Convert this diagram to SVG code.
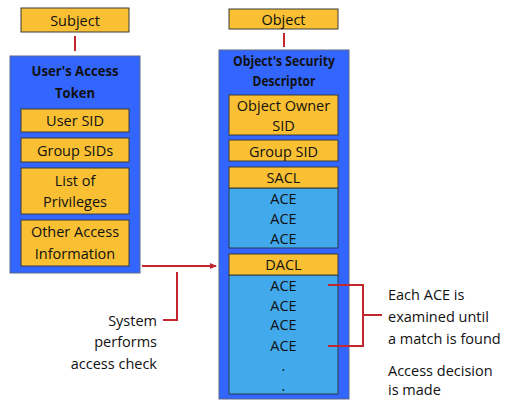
<svg xmlns="http://www.w3.org/2000/svg" width="508" height="406" viewBox="0 0 508 406">
<defs>
<style>
.y{fill:#F9C033;stroke:#3a3a3a;stroke-width:1}
.b{fill:#3366FF;stroke:#5a6a8a;stroke-width:1}
.lb{fill:#42A9EC;stroke:#2a3a4a;stroke-width:1}
text{font-family:"Open Sans","Noto Sans",sans-serif;font-size:14.5px;fill:#111;dominant-baseline:central}
.c{text-anchor:middle}
.t{font-weight:bold;font-size:14.5px}
.w{stroke:#C0282D;stroke-width:2;fill:none}
</style>
<marker id="ah" markerWidth="8" markerHeight="8" refX="6" refY="4" orient="auto" markerUnits="userSpaceOnUse">
<path d="M0,1 L7,4 L0,7 Z" fill="#C0282D"/>
</marker>
</defs>
<g id="subject"><rect class="y" x="21" y="8" width="108" height="24"/><text class="c" x="75" y="20">Subject</text></g>
<g id="token">
<rect class="b" x="10" y="56" width="130" height="217"/>
<text class="c t" x="75" y="70" textLength="87" lengthAdjust="spacingAndGlyphs">User's Access</text>
<text class="c t" x="75" y="92" textLength="40" lengthAdjust="spacingAndGlyphs">Token</text>
</g>
<g id="usersid"><rect class="y" x="21" y="109" width="108" height="23"/><text class="c" x="75" y="120.5">User SID</text></g>
<g id="groupsids"><rect class="y" x="21" y="138" width="108" height="24"/><text class="c" x="75" y="150">Group SIDs</text></g>
<g id="privileges"><rect class="y" x="21" y="168" width="108" height="46"/><text class="c" x="75" y="180">List of</text><text class="c" x="75" y="201">Privileges</text></g>
<g id="other"><rect class="y" x="21" y="220" width="108" height="46"/><text class="c" x="75" y="231">Other Access</text><text class="c" x="75" y="253">Information</text></g>
<g id="object"><rect class="y" x="229" y="9" width="109" height="20"/><text class="c" x="283.5" y="19">Object</text></g>
<g id="descriptor">
<rect class="b" x="219" y="50" width="130" height="349"/>
<text class="c t" x="284" y="60.5" textLength="102" lengthAdjust="spacingAndGlyphs">Object's Security</text>
<text class="c t" x="284" y="80.5" textLength="63" lengthAdjust="spacingAndGlyphs">Descriptor</text>
</g>
<g id="ownersid"><rect class="y" x="229" y="95" width="109" height="40"/><text class="c" x="283.5" y="105">Object Owner</text><text class="c" x="283.5" y="125">SID</text></g>
<g id="groupsid"><rect class="y" x="229" y="140" width="109" height="21"/><text class="c" x="283.5" y="151">Group SID</text></g>
<g id="sacl">
<rect class="lb" x="229" y="188" width="109" height="60"/>
<rect class="y" x="229" y="167" width="109" height="21"/>
<text class="c" x="283.5" y="177.5">SACL</text>
<text class="c" x="283.5" y="198">ACE</text>
<text class="c" x="283.5" y="218">ACE</text>
<text class="c" x="283.5" y="238">ACE</text>
</g>
<g id="dacl">
<rect class="lb" x="229" y="275" width="109" height="119"/>
<rect class="y" x="229" y="254" width="109" height="21"/>
<text class="c" x="283.5" y="264.5">DACL</text>
<text class="c" x="283.5" y="285">ACE</text>
<text class="c" x="283.5" y="305">ACE</text>
<text class="c" x="283.5" y="324">ACE</text>
<text class="c" x="283.5" y="345">ACE</text>
<text class="c" x="283.5" y="365">.</text>
<text class="c" x="283.5" y="385">.</text>
</g>
<g id="connectors">
<line class="w" x1="75" y1="36" x2="75" y2="51" stroke-width="1.5"/>
<line class="w" x1="284" y1="33" x2="284" y2="47" stroke-width="1.5"/>
<line class="w" x1="142" y1="266" x2="216" y2="266" marker-end="url(#ah)"/>
<polyline class="w" points="177,272 177,320 163,320"/>
<polyline class="w" points="328,285 363,285 363,346 328,346"/>
<line class="w" x1="363" y1="315" x2="382" y2="315"/>
</g>
<g id="labels">
<text x="157" y="320" text-anchor="end">System</text>
<text x="157" y="341" text-anchor="end">performs</text>
<text x="157" y="363" text-anchor="end">access check</text>
<text x="388" y="294">Each ACE is</text>
<text x="388" y="316">examined until</text>
<text x="388" y="338">a match is found</text>
<text x="388" y="370">Access decision</text>
<text x="388" y="389">is made</text>
</g>
</svg>
